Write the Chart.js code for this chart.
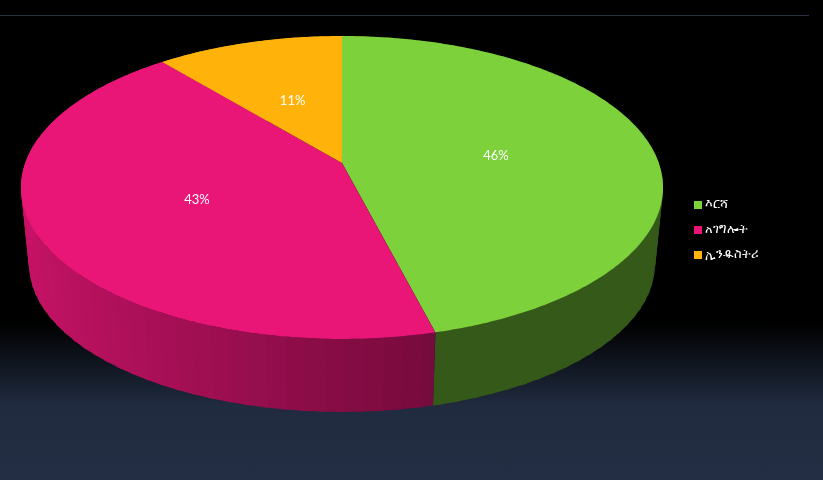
<!DOCTYPE html>
<html>
<head>
<meta charset="utf-8">
<script src="https://cdn.jsdelivr.net/npm/chart.js@4"></script>
<style>
    html, body { margin: 0; padding: 0; width: 823px; height: 480px; overflow: hidden; }
    body { background: linear-gradient(to bottom, #000 0, #000 322px, #202b3f 405px, #232e44 480px); position: relative; }
    #rule { position: absolute; left: 0; top: 15px; width: 809px; height: 1px; background: #2b3242; }
    canvas { position: absolute; left: 0; top: 0; }
</style>
</head>
<body>
<div id="rule"></div>
<canvas id="pie3d" width="823" height="480"></canvas>
<script>
const categories = ['እርሻ', 'አገግሎት', 'ኢንዱስትሪ'];
const shares = [46, 43, 11];
const sliceColors = ['#7dd13b', '#e91678', '#ffb30a'];

// perspective of the pie top: far side squashed, near side stretched
const view = { x: 342, y: 163, rx: 316.8, ry: 147.5, k: -0.1617 };
// the bottom rim is the same shape, a bit smaller and lower
const floor = { x: 342, y: 240.4, scale: 0.975 };

function project(angle, r, rim) {
    const u = Math.cos(angle) * r, v = Math.sin(angle) * r;
    const w = 1 + view.k * v;
    const s = rim ? rim.scale : 1;
    return {
        x: (rim ? rim.x : view.x) + s * view.rx * u / w,
        y: (rim ? rim.y : view.y) + s * view.ry * v / w
    };
}

function shade(hex, f) {
    const n = parseInt(hex.slice(1), 16);
    return `rgb(${(n >> 16) * f | 0},${((n >> 8) & 255) * f | 0},${(n & 255) * f | 0})`;
}

const pie3d = {
    id: 'pie3d',
    beforeDatasetsDraw(chart) {
        const ctx = chart.ctx;
        const arcs = chart.getDatasetMeta(0).data;
        const step = Math.PI / 60;

        // side wall, in narrow bands; each band overlaps the one before it so no seams show
        arcs.forEach((arc, i) => {
            for (let a = arc.startAngle; a < arc.endAngle; a += step) {
                const a0 = Math.max(a - step / 3, arc.startAngle);
                const b = Math.min(a + step, arc.endAngle);
                const p = [project(a0, 1), project(b, 1), project(b, 1, floor), project(a0, 1, floor)];
                // brightest on the left of the pie, darkest on the right
                const f = 0.86 - 0.287 * (Math.cos((a + b) / 2) + 1);
                ctx.fillStyle = shade(sliceColors[i], i === 0 ? 0.43 : f);
                ctx.beginPath();
                p.forEach((q, j) => j ? ctx.lineTo(q.x, q.y) : ctx.moveTo(q.x, q.y));
                ctx.closePath();
                ctx.fill();
            }
        });

        // top faces
        arcs.forEach((arc, i) => {
            ctx.fillStyle = sliceColors[i];
            ctx.beginPath();
            ctx.moveTo(view.x, view.y);
            for (let a = arc.startAngle; a < arc.endAngle; a += step / 4) {
                const q = project(a, 1);
                ctx.lineTo(q.x, q.y);
            }
            const end = project(arc.endAngle, 1);
            ctx.lineTo(end.x, end.y);
            ctx.closePath();
            ctx.fill();
        });

        // percent labels at mid radius
        ctx.fillStyle = '#fff';
        ctx.font = '13px Lato, sans-serif';
        ctx.textAlign = 'center';
        ctx.textBaseline = 'middle';
        arcs.forEach((arc, i) => {
            const q = project((arc.startAngle + arc.endAngle) / 2, 0.495);
            ctx.fillText(shares[i] + '%', q.x, q.y + 2);
        });

        // legend, drawn here because the built-in one keeps a wider gap after the box
        ctx.textAlign = 'left';
        ctx.font = "12.5px 'Noto Sans', sans-serif";
        categories.forEach((name, i) => {
            const y = 205 + i * 25;
            ctx.fillStyle = sliceColors[i];
            ctx.fillRect(694, y - 4, 8, 8);
            ctx.fillStyle = '#fff';
            ctx.fillText(name, 705, y - 0.5);
        });
        return false;
    }
};

new Chart(document.getElementById('pie3d').getContext('2d'), {
    type: 'pie',
    data: {
        labels: categories,
        datasets: [{ data: shares, backgroundColor: sliceColors, borderWidth: 0 }]
    },
    options: {
        responsive: false,
        animation: false,
        plugins: {
            tooltip: { enabled: false },
            legend: { display: false }
        }
    },
    plugins: [pie3d]
});
</script>
</body>
</html>
